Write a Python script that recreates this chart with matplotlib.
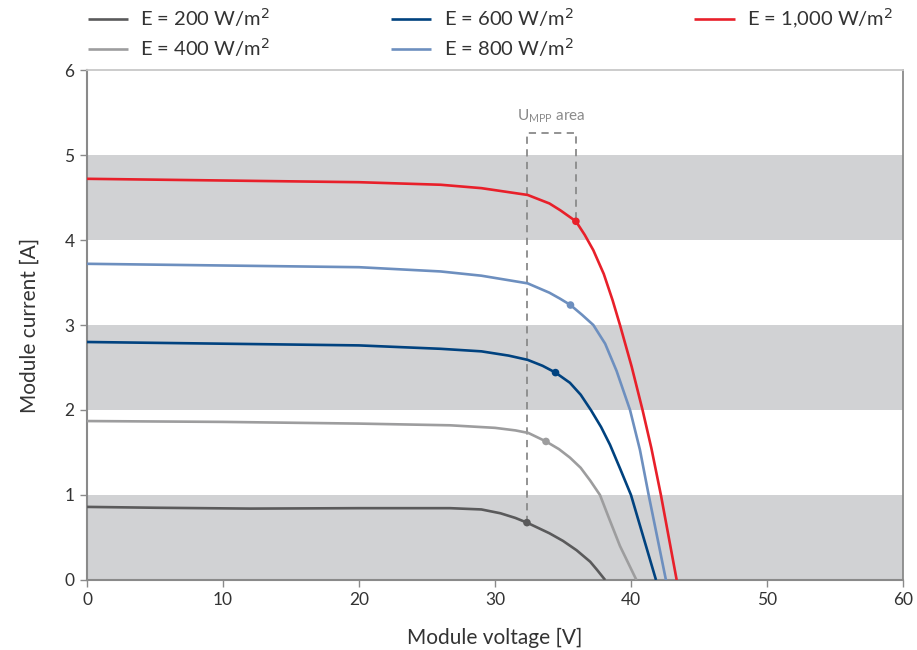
import matplotlib
matplotlib.use("Agg")
import matplotlib.pyplot as plt

plt.rcParams['font.family'] = ['Lato', 'DejaVu Sans']

# ---- data ----
labels = ["E = 200 W/m$^2$", "E = 400 W/m$^2$", "E = 600 W/m$^2$",
          "E = 800 W/m$^2$", "E = 1,000 W/m$^2$"]
colors = ["#5a5a5b", "#9d9d9e", "#00427f", "#6d8fbf", "#e8202a"]

v200 = [0, 5, 12, 20, 26.7, 29, 30.4, 31.5, 32.35, 34, 35, 36, 37, 37.5, 38.1]
i200 = [0.86, 0.85, 0.84, 0.845, 0.845, 0.83, 0.785, 0.73, 0.675, 0.55, 0.46, 0.35, 0.215, 0.12, 0]

v400 = [0, 10, 20, 26.7, 30, 31.5, 32.45, 33.75, 34.7, 35.51, 36.3, 37, 37.72, 38.4, 39.19, 40.4]
i400 = [1.87, 1.86, 1.84, 1.82, 1.79, 1.76, 1.73, 1.63, 1.54, 1.44, 1.32, 1.17, 1.0, 0.72, 0.40, 0]

v600 = [0, 10, 20, 26, 29, 31, 32.4, 33.5, 34.45, 35.51, 36.3, 37.05, 37.8, 38.46, 39.2, 40.0, 41.84]
i600 = [2.80, 2.78, 2.76, 2.72, 2.69, 2.64, 2.59, 2.52, 2.44, 2.32, 2.18, 2.0, 1.80, 1.59, 1.31, 1.0, 0]

v800 = [0, 10, 20, 26, 29, 32.4, 34.0, 34.78, 35.55, 36.4, 37.23, 38.1, 38.94, 39.93, 40.66, 41.3, 42.57]
i800 = [3.72, 3.70, 3.68, 3.63, 3.58, 3.49, 3.38, 3.31, 3.235, 3.12, 3.0, 2.78, 2.46, 2.0, 1.53, 1.0, 0]

v1000 = [0, 10, 20, 26, 29, 32.4, 34.0, 34.8, 35.95, 36.6, 37.23, 38.0, 38.65, 39.19, 40.05, 40.85, 41.5, 42.2, 43.36]
i1000 = [4.72, 4.70, 4.68, 4.65, 4.61, 4.53, 4.43, 4.35, 4.22, 4.06, 3.88, 3.60, 3.29, 3.0, 2.51, 2.0, 1.55, 1.0, 0]

mpp_v = [32.35, 33.75, 34.45, 35.55, 35.95]
mpp_i = [0.675, 1.63, 2.44, 3.235, 4.22]

umpp_top = 5.26
umpp_label = "U$_{\\mathregular{MPP}}$ area"

x_ticks = [0, 10, 20, 30, 40, 50, 60]
y_ticks = [0, 1, 2, 3, 4, 5, 6]
x_label = "Module voltage [V]"
y_label = "Module current [A]"

# ---- figure ----
fig = plt.figure(figsize=(9.17, 6.5), dpi=100)
ax = fig.add_axes([0.0949, 0.1077, 0.8898, 0.7846])

# grey bands: every other unit interval starting at 0
for lo in y_ticks[0:-1:2]:
    ax.axhspan(lo, lo + 1, color="#d1d2d4", lw=0, zorder=0)

series = [(v200, i200), (v400, i400), (v600, i600), (v800, i800), (v1000, i1000)]
handles = []
for (v, i), c, lab in zip(series, colors, labels):
    h, = ax.plot(v, i, color=c, lw=1.9, label=lab, zorder=3,
                 solid_joinstyle="round", solid_capstyle="butt")
    handles.append(h)
ax.scatter(mpp_v, mpp_i, s=30, c=colors, zorder=4, linewidths=0)

# U_MPP area dashed bracket
dash_kw = dict(color="#8a8a8a", lw=1.3, ls=(0, (4, 3)), zorder=2)
ax.plot([mpp_v[0], mpp_v[0], mpp_v[-1], mpp_v[-1]],
        [mpp_i[0], umpp_top, umpp_top, mpp_i[-1]], **dash_kw)
ax.text((mpp_v[0] + mpp_v[-1]) / 2, umpp_top + 0.09, umpp_label,
        ha="center", va="bottom", color="#8a8a8a", fontsize=11)

ax.set_xlim(0, 60)
ax.set_ylim(0, 6)
ax.set_xticks(x_ticks)
ax.set_yticks(y_ticks)
ax.tick_params(direction="out", length=5, width=1, color="#8a8a8a",
               labelsize=12.5, labelcolor="#333333", pad=4)
ax.set_xlabel(x_label, fontsize=15, color="#333333", labelpad=14)
ax.set_ylabel(y_label, fontsize=15, color="#333333", labelpad=18)

for s in ["left", "bottom"]:
    ax.spines[s].set_color("#8a8a8a")
    ax.spines[s].set_linewidth(1.5)
ax.spines["right"].set_color("#8a8a8a")
ax.spines["right"].set_linewidth(1.3)
ax.spines["top"].set_color("#c8c8c8")
ax.spines["top"].set_linewidth(1.3)

fig.legend(handles=handles, labels=labels, ncol=3, loc="upper left",
           bbox_to_anchor=(0.096, 0.99), frameon=False, fontsize=14.5,
           handlelength=2.0, handletextpad=0.6, columnspacing=6.0,
           labelspacing=0.35, borderpad=0, borderaxespad=0,
           labelcolor="#333333")

fig.savefig("out.png", dpi=100)
